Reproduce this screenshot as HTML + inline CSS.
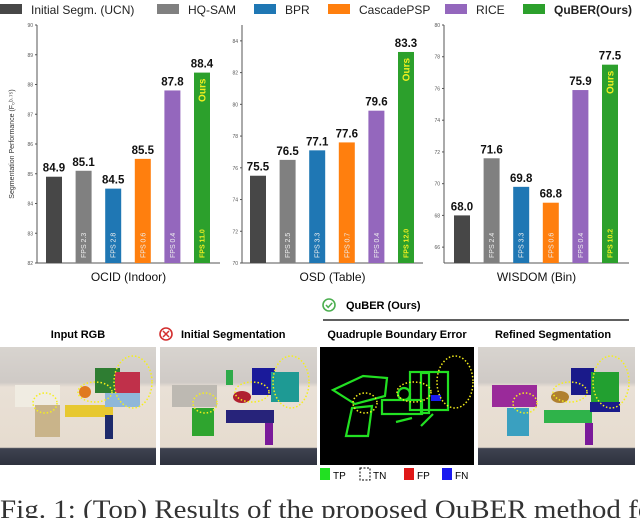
<!DOCTYPE html>
<html><head><meta charset="utf-8"><style>
html,body{margin:0;padding:0;background:#fff;width:640px;height:518px;overflow:hidden}
svg{display:block;font-family:"Liberation Sans","DejaVu Sans",sans-serif}
</style></head><body>
<svg id="fig" width="640" height="518" viewBox="0 0 640 518" xmlns="http://www.w3.org/2000/svg">
<defs>
<linearGradient id="photo" x1="0" y1="0" x2="0" y2="1">
<stop offset="0" stop-color="#d8d4cf"/><stop offset="0.3" stop-color="#cfcac6"/><stop offset="0.34" stop-color="#e9e0d6"/><stop offset="0.85" stop-color="#e6dccf"/><stop offset="0.86" stop-color="#3e4250"/><stop offset="1" stop-color="#2e323e"/>
</linearGradient>
</defs>
<g id="legend"></g>
<g id="charts"></g>
<g id="bottom">
  <circle cx="329" cy="305" r="6" fill="none" stroke="#4caf50" stroke-width="1.6"/>
  <path d="M326 305 l2.2 2.4 l4-4.5" fill="none" stroke="#4caf50" stroke-width="1.5"/>
  <text x="346" y="309" font-size="11" font-weight="bold">QuBER (Ours)</text>
  <line x1="323" y1="320" x2="629" y2="320" stroke="#000" stroke-width="1.2"/>
  <text x="78" y="338" font-size="11" font-weight="bold" text-anchor="middle">Input RGB</text>
  <circle cx="166" cy="334" r="6" fill="none" stroke="#d32f2f" stroke-width="1.6"/>
  <path d="M163 331 l6 6 M169 331 l-6 6" stroke="#d32f2f" stroke-width="1.5"/>
  <text x="181" y="338" font-size="11" font-weight="bold">Initial Segmentation</text>
  <text x="397" y="338" font-size="11" font-weight="bold" text-anchor="middle">Quadruple Boundary Error</text>
  <text x="553" y="338" font-size="11" font-weight="bold" text-anchor="middle">Refined Segmentation</text>

  <g>
    <rect x="0" y="347" width="156" height="118" fill="url(#photo)"/>
    <rect x="15" y="385" width="45" height="22" fill="#f0ece2"/><rect x="35" y="405" width="25" height="32" fill="#c9b48a"/>
    <rect x="65" y="405" width="48" height="12" fill="#e7c830"/><circle cx="85" cy="392" r="6" fill="#e07a20"/>
    <rect x="95" y="368" width="25" height="25" fill="#2e7d32"/><rect x="115" y="372" width="25" height="24" fill="#c0304a"/>
    <rect x="105" y="393" width="35" height="14" fill="#8fb7d9"/><rect x="105" y="415" width="8" height="24" fill="#1d2a6b"/>
    <ellipse cx="133" cy="382" rx="19" ry="26" fill="none" stroke="#f5ef1a" stroke-width="1.5" stroke-dasharray="1.5 2"/>
    <ellipse cx="95" cy="392" rx="17" ry="10" fill="none" stroke="#f5ef1a" stroke-width="1.5" stroke-dasharray="1.5 2"/>
    <ellipse cx="45" cy="403" rx="12" ry="10" fill="none" stroke="#f5ef1a" stroke-width="1.5" stroke-dasharray="1.5 2"/>
  </g>
  <g>
    <rect x="160" y="347" width="157" height="118" fill="url(#photo)"/>
    <rect x="172" y="385" width="45" height="22" fill="#bdb9b2"/><rect x="192" y="408" width="22" height="28" fill="#2fa52f"/>
    <rect x="226" y="410" width="48" height="13" fill="#27237a"/><ellipse cx="242" cy="397" rx="9" ry="6" fill="#b02030"/>
    <rect x="252" y="368" width="23" height="27" fill="#1a1a9a"/><rect x="271" y="372" width="28" height="30" fill="#1e9a94"/>
    <rect x="226" y="370" width="7" height="15" fill="#2eaa4a"/><rect x="265" y="423" width="8" height="22" fill="#7a1a9a"/>
    <ellipse cx="291" cy="382" rx="18" ry="26" fill="none" stroke="#f5ef1a" stroke-width="1.5" stroke-dasharray="1.5 2"/>
    <ellipse cx="252" cy="392" rx="17" ry="10" fill="none" stroke="#f5ef1a" stroke-width="1.5" stroke-dasharray="1.5 2"/>
    <ellipse cx="205" cy="403" rx="12" ry="10" fill="none" stroke="#f5ef1a" stroke-width="1.5" stroke-dasharray="1.5 2"/>
  </g>
  <g>
    <rect x="320" y="347" width="154" height="118" fill="#000"/>
    <g fill="none" stroke="#22e022" stroke-width="2.2">
      <path d="M333 390 l30 -14 l24 2 l-2 18 l-30 8 z"/><rect x="410" y="372" width="38" height="38"/>
      <path d="M352 408 l20 -2 l-4 30 l-22 0 z"/><rect x="382" y="400" width="40" height="14"/>
      <circle cx="404" cy="394" r="6"/><path d="M396 422 l16 -4 M421 426 l12 -12"/><rect x="421" y="373" width="8" height="40"/>
    </g>
    <rect x="431" y="395" width="10" height="6" fill="#1a1af0"/>
    <ellipse cx="455" cy="382" rx="18" ry="26" fill="none" stroke="#f5ef1a" stroke-width="1.5" stroke-dasharray="1.5 2"/>
    <ellipse cx="414" cy="392" rx="17" ry="10" fill="none" stroke="#f5ef1a" stroke-width="1.5" stroke-dasharray="1.5 2"/>
    <ellipse cx="365" cy="403" rx="12" ry="10" fill="none" stroke="#f5ef1a" stroke-width="1.5" stroke-dasharray="1.5 2"/>
  </g>
  <g>
    <rect x="478" y="347" width="157" height="118" fill="url(#photo)"/>
    <rect x="492" y="385" width="45" height="22" fill="#9a2a9a"/><rect x="507" y="408" width="22" height="28" fill="#3aa0c0"/>
    <rect x="544" y="410" width="48" height="13" fill="#2fb34a"/><ellipse cx="560" cy="397" rx="9" ry="6" fill="#b08030"/>
    <rect x="571" y="368" width="23" height="27" fill="#1a1a8a"/><rect x="591" y="372" width="28" height="30" fill="#22a030"/>
    <rect x="590" y="402" width="30" height="10" fill="#1a1a8a"/><rect x="585" y="423" width="8" height="22" fill="#7a1a9a"/>
    <ellipse cx="611" cy="382" rx="18" ry="26" fill="none" stroke="#f5ef1a" stroke-width="1.5" stroke-dasharray="1.5 2"/>
    <ellipse cx="570" cy="392" rx="17" ry="10" fill="none" stroke="#f5ef1a" stroke-width="1.5" stroke-dasharray="1.5 2"/>
    <ellipse cx="525" cy="403" rx="12" ry="10" fill="none" stroke="#f5ef1a" stroke-width="1.5" stroke-dasharray="1.5 2"/>
  </g>
  <g font-size="10">
    <rect x="320" y="468" width="10" height="12" fill="#22e022"/><text x="333" y="479">TP</text>
    <rect x="360" y="468" width="10" height="12" fill="none" stroke="#000" stroke-dasharray="2 1.5"/><text x="373" y="479">TN</text>
    <rect x="404" y="468" width="10" height="12" fill="#e01818"/><text x="417" y="479">FP</text>
    <rect x="442" y="468" width="10" height="12" fill="#1a1af0"/><text x="455" y="479">FN</text>
  </g>
  <text x="0" y="518" font-family="Liberation Serif, serif" font-size="26" fill="#333" textLength="662" lengthAdjust="spacingAndGlyphs">Fig. 1: (Top) Results of the proposed QuBER method for</text>
</g>
</svg>
<script>
const NS='http://www.w3.org/2000/svg';
const methods=['Initial Segm. (UCN)','HQ-SAM','BPR','CascadePSP','RICE','QuBER(Ours)'];
const colors=['#474747','#808080','#1f77b4','#ff7f0e','#9467bd','#2ca02c'];
const datasets=['OCID (Indoor)','OSD (Table)','WISDOM (Bin)'];
const ocidValues=[84.9,85.1,84.5,85.5,87.8,88.4];
const osdValues=[75.5,76.5,77.1,77.6,79.6,83.3];
const wisdomValues=[68.0,71.6,69.8,68.8,75.9,77.5];
const ocidFps=['','FPS 2.3','FPS 2.8','FPS 0.6','FPS 0.4','FPS 11.0'];
const osdFps=['','FPS 2.5','FPS 3.3','FPS 0.7','FPS 0.4','FPS 12.0'];
const wisdomFps=['','FPS 2.4','FPS 3.3','FPS 0.6','FPS 0.4','FPS 10.2'];
const ocidTicks=[82,83,84,85,86,87,88,89,90];
const osdTicks=[70,72,74,76,78,80,82,84];
const wisdomTicks=[66,68,70,72,74,76,78,80];
const ocidRange=[82,90], osdRange=[70,85], wisdomRange=[65,80];

function el(tag,attrs,parent,txt){const e=document.createElementNS(NS,tag);for(const k in attrs)e.setAttribute(k,attrs[k]);if(txt!==undefined)e.textContent=txt;parent.appendChild(e);return e;}

const lg=document.getElementById('legend');
const legX=[0,157,254,328,445,523];
methods.forEach((m,i)=>{
  const s=el('rect',{x:legX[i],y:4,width:22,height:10,fill:colors[i]},lg);
  
  
  const t=el('text',{x:legX[i]+31,y:14,'font-size':12,fill:'#222','font-weight':i===5?'bold':'normal'},lg,m);
  
  
});

const cg=document.getElementById('charts');
const panels=[
 {x0:37,x1:220,yTop:25,yBase:263,range:ocidRange,vals:ocidValues,fps:ocidFps,ticks:ocidTicks,first:54,title:datasets[0],axisTop:25},
 {x0:242,x1:423,yTop:25,yBase:263,range:osdRange,vals:osdValues,fps:osdFps,ticks:osdTicks,first:258,title:datasets[1],axisTop:25},
 {x0:444,x1:629,yTop:25,yBase:263,range:wisdomRange,vals:wisdomValues,fps:wisdomFps,ticks:wisdomTicks,first:462,title:datasets[2],axisTop:25}
];
panels.forEach((p,pi)=>{
  const g=el('g',{},cg);
  
  
  const y=v=>p.yBase-(v-p.range[0])/(p.range[1]-p.range[0])*(p.yBase-p.yTop);
  const bx=i=>p.first+i*29.6;
  const ya=el('line',{x1:p.x0,y1:p.axisTop,x2:p.x0,y2:p.yBase,stroke:'#555','stroke-width':1},g);
  
  
  const xa=el('line',{x1:p.x0,y1:p.yBase,x2:p.x1,y2:p.yBase,stroke:'#555','stroke-width':1},g);
  
  
  p.ticks.forEach(t=>{
    el('line',{x1:p.x0-2,y1:y(t),x2:p.x0,y2:y(t),stroke:'#555'},g);
    const tl=el('text',{x:p.x0-4,y:y(t)+2,'font-size':5,'text-anchor':'end',fill:'#555'},g,t);
    
    
  });
  p.vals.forEach((v,i)=>{
    const cx=bx(i);
    const b=el('rect',{x:cx-8,y:y(v),width:16,height:p.yBase-y(v),fill:colors[i]},g);
    
    
    const vl=el('text',{x:cx,y:y(v)-5,'font-size':11.5,'font-weight':'bold','text-anchor':'middle',fill:'#111'},g,v.toFixed(1));
    
    
    if(p.fps[i]){
      const f=el('text',{x:0,y:0,'font-size':7,fill:i===5?'#f0f020':'#eee','font-weight':i===5?'bold':'normal',transform:`translate(${cx+2.5},${p.yBase-5}) rotate(-90)`},g,p.fps[i]);
      
      
    }
    if(i===5){
      const o=el('text',{x:0,y:0,'font-size':10,'font-weight':'bold',fill:'#f0f020','text-anchor':'end',transform:`translate(${cx+3.5},${y(v)+6}) rotate(-90)`},g,'Ours');
      
      
    }
  });
  const tt=el('text',{x:(p.x0+p.x1)/2,y:281,'font-size':12,'text-anchor':'middle',fill:'#111'},g,p.title);
  
  
});
const yt=el('text',{x:0,y:0,'font-size':7,fill:'#333','text-anchor':'middle',transform:'translate(14,144) rotate(-90)'},cg,'Segmentation Performance (F\u2080\u1D47\u00B7\u2077\u2075)');


</script>
</body></html>
